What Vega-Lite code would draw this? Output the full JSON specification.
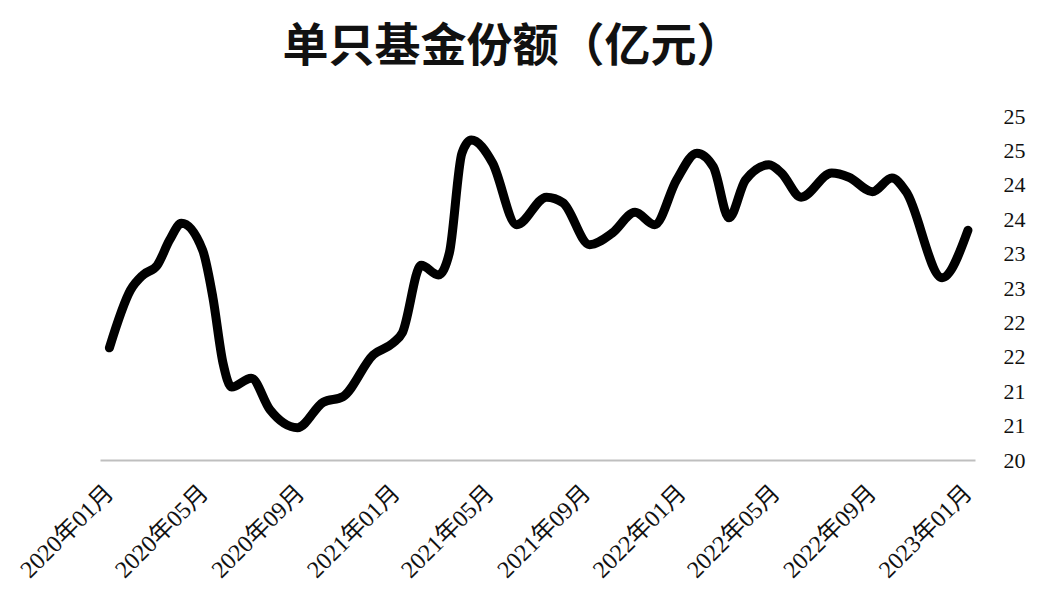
{
  "$schema": "https://vega.github.io/schema/vega-lite/v6.json",
  "width": 875,
  "height": 344,
  "autosize": {"type": "none"},
  "padding": {"left": 100, "top": 116, "right": 62, "bottom": 137},
  "background": "white",
  "title": {
    "text": "单只基金份额（亿元）",
    "font": "Noto Sans CJK SC",
    "fontSize": 46,
    "fontWeight": "bold",
    "color": "#111111",
    "anchor": "middle",
    "dx": -25,
    "offset": 34
  },
  "data": {
    "values": [
      {"date": "2020/01/01", "value": 21.63},
      {"date": "2020/01/28", "value": 22.47},
      {"date": "2020/02/13", "value": 22.69},
      {"date": "2020/03/02", "value": 22.83},
      {"date": "2020/03/18", "value": 23.20},
      {"date": "2020/04/02", "value": 23.44},
      {"date": "2020/04/29", "value": 23.05},
      {"date": "2020/05/12", "value": 22.37},
      {"date": "2020/05/25", "value": 21.41},
      {"date": "2020/06/05", "value": 21.06},
      {"date": "2020/06/30", "value": 21.19},
      {"date": "2020/07/24", "value": 20.73},
      {"date": "2020/08/28", "value": 20.47},
      {"date": "2020/09/30", "value": 20.84},
      {"date": "2020/10/25", "value": 20.92},
      {"date": "2020/12/03", "value": 21.53},
      {"date": "2020/12/28", "value": 21.70},
      {"date": "2021/01/09", "value": 21.85},
      {"date": "2021/02/02", "value": 22.83},
      {"date": "2021/02/24", "value": 22.69},
      {"date": "2021/03/10", "value": 23.01},
      {"date": "2021/03/26", "value": 24.46},
      {"date": "2021/04/07", "value": 24.65},
      {"date": "2021/05/04", "value": 24.32},
      {"date": "2021/06/04", "value": 23.42},
      {"date": "2021/07/12", "value": 23.82},
      {"date": "2021/08/02", "value": 23.74},
      {"date": "2021/09/05", "value": 23.13},
      {"date": "2021/10/04", "value": 23.30},
      {"date": "2021/11/02", "value": 23.60},
      {"date": "2021/11/27", "value": 23.42},
      {"date": "2021/12/25", "value": 24.07},
      {"date": "2022/01/20", "value": 24.46},
      {"date": "2022/02/10", "value": 24.26},
      {"date": "2022/03/02", "value": 23.52},
      {"date": "2022/03/23", "value": 24.07},
      {"date": "2022/04/22", "value": 24.29},
      {"date": "2022/05/08", "value": 24.17},
      {"date": "2022/06/02", "value": 23.82},
      {"date": "2022/07/11", "value": 24.17},
      {"date": "2022/08/02", "value": 24.11},
      {"date": "2022/09/01", "value": 23.90},
      {"date": "2022/09/26", "value": 24.10},
      {"date": "2022/10/14", "value": 23.90},
      {"date": "2022/11/29", "value": 22.65},
      {"date": "2023/01/01", "value": 23.34}
    ]
  },
  "mark": {
    "type": "line",
    "color": "#000000",
    "strokeWidth": 9,
    "strokeCap": "round",
    "strokeJoin": "round",
    "interpolate": "monotone"
  },
  "encoding": {
    "x": {
      "field": "date",
      "type": "temporal",
      "title": null,
      "scale": {
        "domain": [
          {"year": 2019, "month": 12, "date": 20},
          {"year": 2023, "month": 1, "date": 10}
        ]
      },
      "axis": {
        "values": [
          {"year": 2020, "month": 1, "date": 1},
          {"year": 2020, "month": 5, "date": 1},
          {"year": 2020, "month": 9, "date": 1},
          {"year": 2021, "month": 1, "date": 1},
          {"year": 2021, "month": 5, "date": 1},
          {"year": 2021, "month": 9, "date": 1},
          {"year": 2022, "month": 1, "date": 1},
          {"year": 2022, "month": 5, "date": 1},
          {"year": 2022, "month": 9, "date": 1},
          {"year": 2023, "month": 1, "date": 1}
        ],
        "format": "%Y年%m月",
        "labelAngle": -45,
        "labelAlign": "right",
        "labelBaseline": "middle",
        "labelPadding": 29,
        "labelFont": "Liberation Serif, Noto Sans CJK SC",
        "labelFontSize": 24,
        "labelColor": "#111111",
        "labelOverlap": false,
        "labelFlush": false,
        "ticks": false,
        "grid": false,
        "domainColor": "#bfbfbf",
        "domainWidth": 2
      }
    },
    "y": {
      "field": "value",
      "type": "quantitative",
      "title": null,
      "scale": {"domain": [20, 25], "nice": false, "zero": false},
      "axis": {
        "orient": "right",
        "values": [20, 20.5, 21, 21.5, 22, 22.5, 23, 23.5, 24, 24.5, 25],
        "format": ".0f",
        "labelFont": "Liberation Serif",
        "labelFontSize": 22,
        "labelColor": "#111111",
        "labelPadding": 28,
        "labelFlush": false,
        "labelOverlap": false,
        "domain": false,
        "ticks": false,
        "grid": false
      }
    }
  },
  "config": {
    "view": {"stroke": null}
  }
}
